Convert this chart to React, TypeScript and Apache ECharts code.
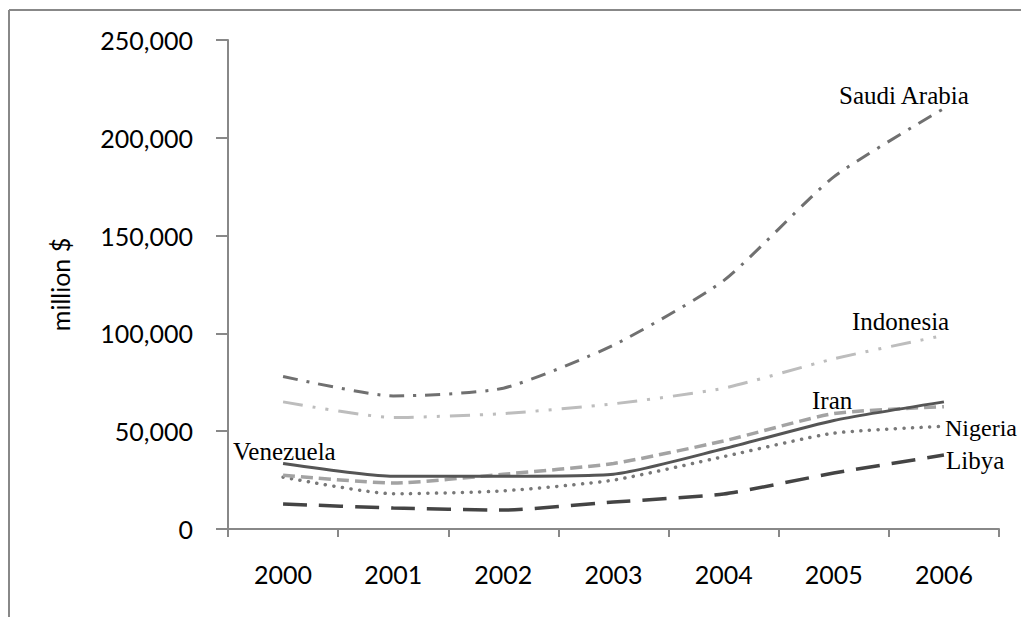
import React, { useEffect, useRef } from "react";
import * as echarts from "echarts";

const years = ["2000", "2001", "2002", "2003", "2004", "2005", "2006"];
const saudiArabia = [78000, 68000, 72000, 94000, 127000, 180000, 215000];
const indonesia = [65000, 57000, 59000, 64000, 72000, 87000, 99000];
const iran = [27500, 23500, 28000, 33500, 45000, 59000, 62500];
const venezuela = [33500, 27000, 27000, 28000, 41000, 55500, 65000];
const nigeria = [26500, 18000, 19500, 25000, 37000, 49000, 52500];
const libya = [12800, 10700, 9700, 13800, 17900, 28600, 37800];
const yTicks = [0, 50000, 100000, 150000, 200000, 250000];

const SERIF = "'Liberation Serif', 'Times New Roman', serif";
const SANS = "Lato, Carlito, Calibri, sans-serif";

export default function App() {
  const ref = useRef<HTMLDivElement>(null);
  useEffect(() => {
    document.body.style.margin = "0";
    if (!ref.current) return;
    const chart = echarts.init(ref.current, null, { renderer: "svg" });
    const mk = (name: string, data: number[], color: string, width: number, type: any, cap: any = "butt") => ({
      name,
      type: "line",
      data,
      smooth: 0.2,
      showSymbol: false,
      symbol: "none",
      lineStyle: { color, width, type, cap },
      z: 3,
    });
    const label = (text: string, x: number, y: number, size = 25) => ({
      type: "text",
      x,
      y,
      style: { text, font: `${size}px ${SERIF}`, fill: "#000", textAlign: "left", textVerticalAlign: "middle" },
      z: 10,
    });
    chart.setOption({
      animation: false,
      backgroundColor: "#fff",
      grid: { left: 228, right: 22, top: 40, bottom: 88, containLabel: false },
      xAxis: {
        type: "category",
        data: years,
        boundaryGap: true,
        axisLine: { lineStyle: { color: "#888", width: 2 } },
        axisTick: { show: true, length: 8, lineStyle: { color: "#888", width: 2 } },
        axisLabel: { color: "#000", fontFamily: SANS, fontSize: 25, margin: 32 },
        splitLine: { show: false },
      },
      yAxis: {
        type: "value",
        min: yTicks[0],
        max: yTicks[yTicks.length - 1],
        interval: 50000,
        name: "million $",
        nameLocation: "middle",
        nameGap: 156,
        nameRotate: 90,
        nameTextStyle: { color: "#000", fontFamily: SANS, fontSize: 25 },
        axisLine: { show: true, lineStyle: { color: "#888", width: 2 } },
        axisTick: { show: true, length: 12, lineStyle: { color: "#888", width: 2 } },
        axisLabel: {
          color: "#000",
          fontFamily: SANS,
          fontSize: 25,
          margin: 35,
          formatter: (v: number) => v.toLocaleString("en-US"),
        },
        splitLine: { show: false },
      },
      series: [
        mk("Saudi Arabia", saudiArabia, "#707070", 3, [15, 9, 3, 9]),
        mk("Indonesia", indonesia, "#bdbdbd", 3, [20, 10, 3, 10, 3, 10]),
        mk("Libya", libya, "#444444", 3.5, [24, 12]),
        mk("Nigeria", nigeria, "#787878", 3.5, [0.1, 8.5], "round"),
        mk("Iran", iran, "#a3a3a3", 3.5, [12, 6]),
        mk("Venezuela", venezuela, "#555555", 3, "solid"),
      ],
      graphic: [
        { type: "line", shape: { x1: 9, y1: 10, x2: 1021, y2: 10 }, style: { stroke: "#888", lineWidth: 2 } },
        { type: "line", shape: { x1: 9, y1: 10, x2: 9, y2: 617 }, style: { stroke: "#888", lineWidth: 2 } },
        label("Saudi Arabia", 839, 95),
        label("Indonesia", 852, 321),
        label("Iran", 812, 400),
        label("Nigeria", 945, 428, 24),
        label("Libya", 946, 460),
        label("Venezuela", 233, 451),
      ],
    });
    return () => chart.dispose();
  }, []);
  return <div ref={ref} style={{ width: 1021, height: 617 }} />;
}
